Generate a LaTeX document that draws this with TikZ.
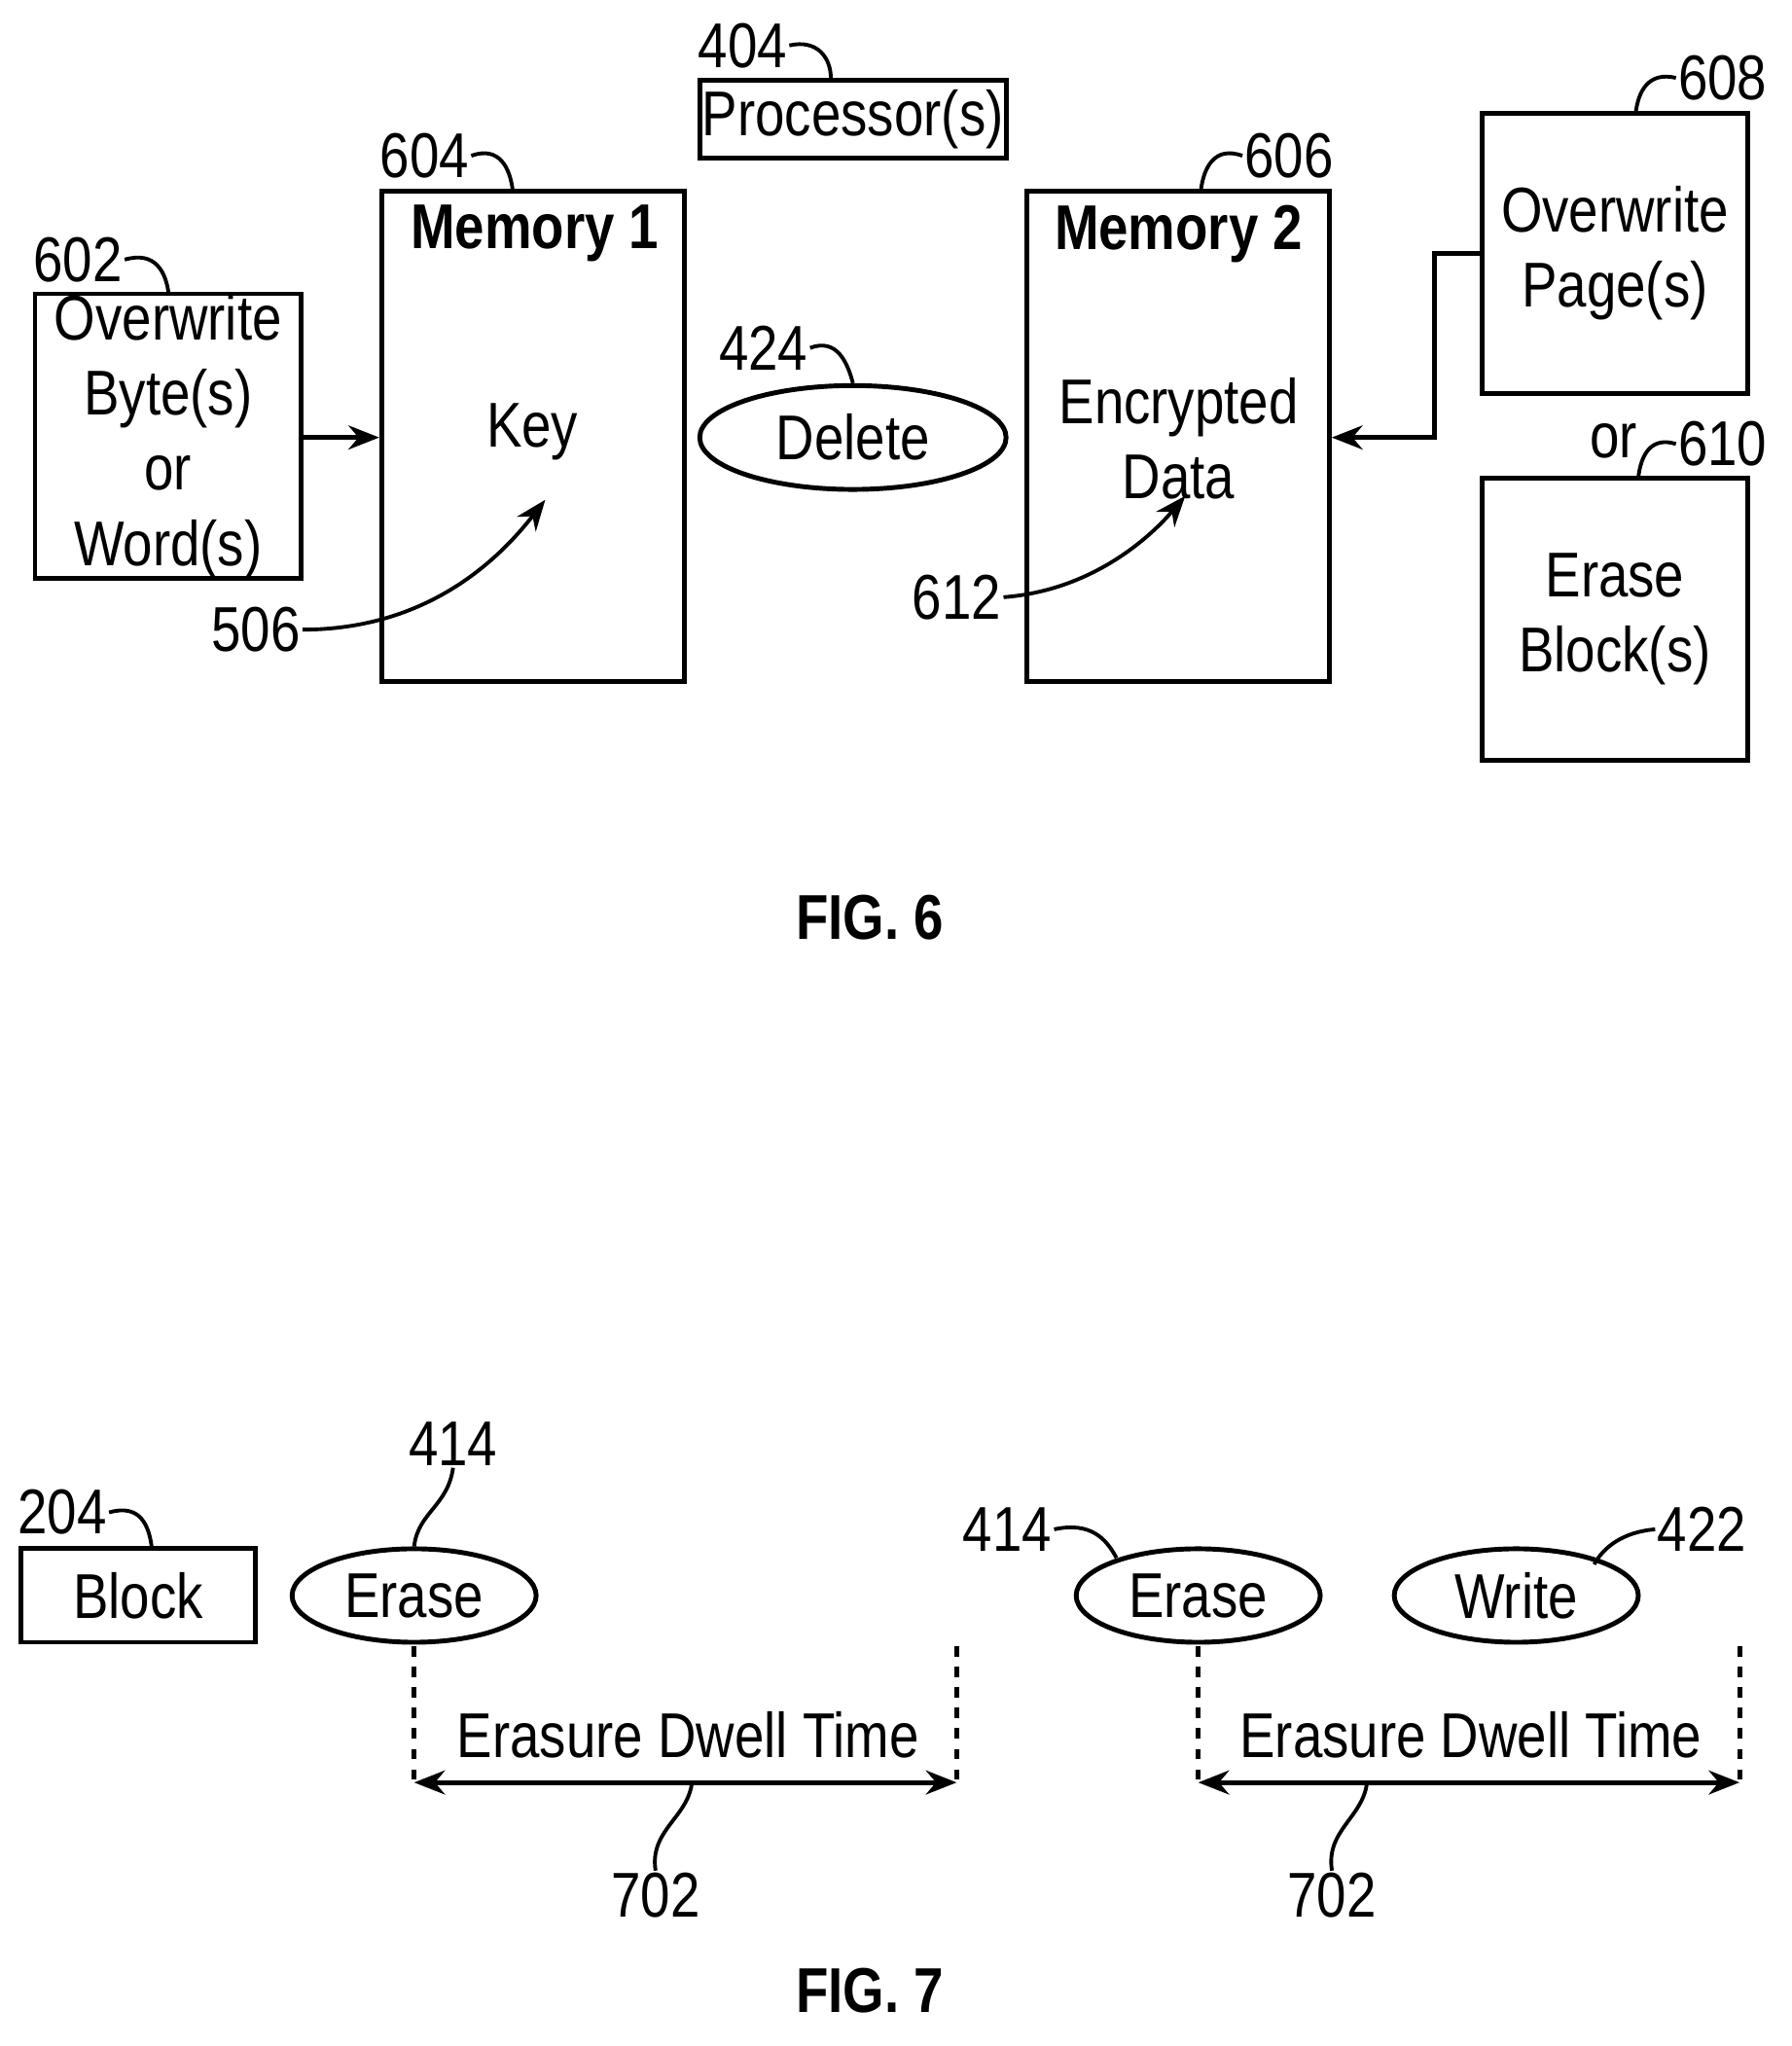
\documentclass[tikz,border=0pt]{standalone}
\usepackage{fontspec}
\setmainfont{Liberation Sans}[FakeStretch=0.84]
\usepackage{tikz}
\usetikzlibrary{calc,shapes.geometric,arrows.meta}
\newcommand{\dpx}{0.01334cm}
\begin{document}
\begin{tikzpicture}[x=0.01334cm, y=-0.01334cm, line width=1.4pt,
    txt/.style={font=\fontsize{18.5}{22}\selectfont, align=center, inner sep=0pt},
    box/.style={draw, txt},
    oval/.style={draw, ellipse, txt, minimum width=188*\dpx, minimum height=72*\dpx},
    lead/.style={line width=1.1pt},
    arr/.style={-{Stealth[length=9pt,width=7pt]}}]
    \useasboundingbox (0,0) rectangle (1380,1576);
    % FIG. 6
    \node[box, minimum width=236*\dpx, minimum height=60*\dpx] (proc) at (657,92) {Processor(s)};
    \node[txt] (l404) at (572,35) {404};
    \draw[lead] (l404.east) .. controls (630,30) and (640,45) .. (proc.north -| 640,0);
    \node[box, minimum width=205*\dpx, minimum height=218*\dpx] (ovb) at (129.5,336) {Overwrite\\Byte(s)\\or\\Word(s)};
    \node[txt] (l602) at (60,200) {602};
    \draw[lead] (l602.east) .. controls (120,193) and (128,210) .. (130,227);
    \node[box, minimum width=233*\dpx, minimum height=378*\dpx] (mem1) at (410.5,336) {};
    \node[txt, font=\fontsize{18.5}{22}\selectfont\bfseries] (m1) at (412,180) {Memory 1};
    \node[txt] (key) at (410,333) {Key};
    \node[txt] (l604) at (327,120) {604};
    \draw[lead] (l604.east) .. controls (385,112) and (393,130) .. (395,147);
    \draw[arr] (ovb.east |- 0,337) -- (mem1.west |- 0,337);
    \node[oval, minimum width=236*\dpx, minimum height=80*\dpx] (del) at (657,337) {Delete};
    \node[txt] (l424) at (588,268) {424};
    \draw[lead] (l424.east) .. controls (645,260) and (653,280) .. (del.north);
    \node[box, minimum width=233*\dpx, minimum height=378*\dpx] (mem2) at (907.5,336) {};
    \node[txt, font=\fontsize{18.5}{22}\selectfont\bfseries] (m2) at (908,180) {Memory 2};
    \node[txt] (enc) at (908,338) {Encrypted\\Data};
    \node[txt] (l606) at (993,120) {606};
    \draw[lead] (l606.west) .. controls (935,112) and (927,130) .. (925,147);
    \node[box, minimum width=204*\dpx, minimum height=216*\dpx] (ovp) at (1244,195) {Overwrite\\Page(s)};
    \node[txt] (l608) at (1327,60) {608};
    \draw[lead] (l608.west) .. controls (1270,55) and (1262,70) .. (1260,87);
    \draw[arr] (ovp.west) -- (1105,195) -- (1105,337) -- (mem2.east |- 0,337);
    \node[box, minimum width=204*\dpx, minimum height=218*\dpx] (erb) at (1244,477) {Erase\\Block(s)};
    \node[txt] (or) at (1243,340) {or};
    \node[txt] (l610) at (1327,342) {610};
    \draw[lead] (l610.west) .. controls (1272,336) and (1264,350) .. (1262,368);
    \node[txt] (l506) at (197,485) {506};
    \draw[lead, arr] (l506.east) .. controls (330,485) and (385,430) .. (420,385);
    \node[txt] (l612) at (737,460) {612};
    \draw[lead, arr] (l612.east) .. controls (840,455) and (885,415) .. (913,382);
    \node[txt, font=\fontsize{18.5}{22}\selectfont\bfseries] (fig6) at (670,707) {FIG. 6};
    % FIG. 7
    \node[box, minimum width=181*\dpx, minimum height=72*\dpx] (blk) at (106.5,1229) {Block};
    \node[txt] (l204) at (48,1165) {204};
    \draw[lead] (l204.east) .. controls (108,1158) and (115,1175) .. (117,1193);
    \node[oval] (era1) at (319,1229) {Erase};
    \node[txt] (l414a) at (349,1112) {414};
    \draw[lead] (l414a.south) .. controls (345,1160) and (322,1165) .. (era1.north);
    \node[oval] (era2) at (923,1229) {Erase};
    \node[txt] (l414b) at (776,1178) {414};
    \draw[lead] (l414b.east) .. controls (840,1172) and (852,1185) .. (860,1200);
    \node[oval] (wri) at (1168,1229) {Write};
    \node[txt] (l422) at (1311,1178) {422};
    \draw[lead] (l422.west) .. controls (1250,1180) and (1235,1192) .. (1228,1205);
    \foreach \name/\xa/\xb in {d1/319/737, d2/923/1340} {
        \coordinate (\name a) at (\xa,1373);
        \coordinate (\name b) at (\xb,1373);
        \draw[dashed] (\xa,1268) -- (\name a);
        \draw[dashed] (\xb,1268) -- (\name b);
        \draw[{Stealth[length=9pt,width=7pt]}-{Stealth[length=9pt,width=7pt]}] (\name a) -- (\name b);
    }
    \node[txt] (edt1) at (530,1336) {Erasure Dwell Time};
    \node[txt] (edt2) at (1133,1336) {Erasure Dwell Time};
    \node[txt] (l702a) at (505,1460) {702};
    \draw[lead] (l702a.north) .. controls (500,1410) and (530,1400) .. (533,1373);
    \node[txt] (l702b) at (1026,1460) {702};
    \draw[lead] (l702b.north) .. controls (1021,1410) and (1050,1400) .. (1053,1373);
    \node[txt, font=\fontsize{18.5}{22}\selectfont\bfseries] (fig7) at (670,1533) {FIG. 7};
\end{tikzpicture}
\end{document}
